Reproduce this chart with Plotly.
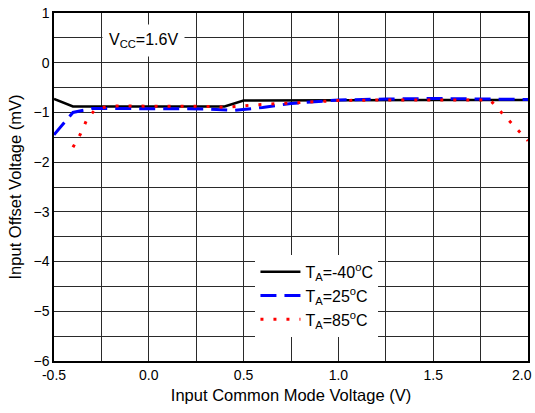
import plotly.graph_objects as go

x_m40 = [-0.5, -0.4, 0.0, 0.4, 0.5, 1.0, 1.5, 2.0]
y_m40 = [-0.73, -0.88, -0.88, -0.88, -0.76, -0.75, -0.75, -0.75]

x_25 = [-0.5, -0.4, -0.3, -0.1, 0.1, 0.3, 0.45, 0.6, 0.75, 0.9, 1.0, 1.25, 1.5, 1.75, 2.0]
y_25 = [-1.45, -1.0, -0.92, -0.92, -0.92, -0.93, -0.96, -0.9, -0.82, -0.78, -0.75, -0.73, -0.72, -0.73, -0.74]

x_85 = [-0.4, -0.36, -0.325, -0.28, -0.2, 0.0, 0.2, 0.35, 0.4, 0.55, 0.7, 0.9, 1.0, 1.25, 1.5, 1.8, 1.86, 1.93, 2.0]
y_85 = [-1.7, -1.43, -1.13, -0.93, -0.87, -0.87, -0.87, -0.88, -0.9, -0.85, -0.82, -0.78, -0.76, -0.75, -0.75, -0.75, -1.0, -1.28, -1.57]

x_ticks = [-0.5, 0.0, 0.5, 1.0, 1.5]
x_edge_tick = 2.0

names = ["T<sub>A</sub>=-40<sup>o</sup>C", "T<sub>A</sub>=25<sup>o</sup>C", "T<sub>A</sub>=85<sup>o</sup>C"]

fig = go.Figure()
fig.add_trace(go.Scatter(x=x_m40, y=y_m40, mode="lines", name=names[0],
                         line=dict(color="black", width=2.5)))
fig.add_trace(go.Scatter(x=x_25, y=y_25, mode="lines", name=names[1],
                         line=dict(color="blue", width=3, dash="16px,8px")))
fig.add_trace(go.Scatter(x=x_85, y=y_85, mode="lines", name=names[2],
                         line=dict(color="red", width=3, dash="3px,10px")))

font = "Liberation Sans, Arial, sans-serif"
fig.add_annotation(x=-0.03, y=0.44, xref="x", yref="y",
                   text="V<sub>CC</sub>=1.6V", showarrow=False,
                   bgcolor="white", borderpad=6,
                   font=dict(family=font, size=16, color="black"))
fig.add_annotation(x=x_edge_tick, y=0, xref="x", yref="paper", yanchor="top",
                   xanchor="right", xshift=6, yshift=-4,
                   text=f"{x_edge_tick:.1f}", showarrow=False,
                   font=dict(family=font, size=14, color="black"))

grid = "#2a2a2a"
fig.update_layout(
    width=535, height=413,
    margin=dict(l=54, r=7, t=13, b=52),
    plot_bgcolor="white", paper_bgcolor="white",
    font=dict(family=font, size=14, color="black"),
    legend=dict(x=0.425, y=0.305, xanchor="left", yanchor="top",
                bgcolor="white", font=dict(family=font, size=16),
                tracegroupgap=0, itemwidth=40),
    xaxis=dict(range=[-0.5, 2.0], tickvals=x_ticks, ticktext=[f"{v:.1f}" for v in x_ticks],
               automargin=False,
               showgrid=True, gridcolor=grid, gridwidth=1.2,
               minor=dict(dtick=0.25, tick0=-0.5, showgrid=True, gridcolor=grid, gridwidth=1.2),
               showline=True, linecolor="black", linewidth=1.5, mirror=True,
               ticks="", zeroline=False,
               title=dict(text="Input Common Mode Voltage (V)", font=dict(size=16.5), standoff=8)),
    yaxis=dict(range=[-6, 1], dtick=1, automargin=False,
               showgrid=True, gridcolor=grid, gridwidth=1.2,
               minor=dict(dtick=0.5, showgrid=True, gridcolor=grid, gridwidth=1.2),
               showline=True, linecolor="black", linewidth=1.5, mirror=True,
               ticks="", zeroline=False,
               title=dict(text="Input Offset Voltage (mV)", font=dict(size=16.5), standoff=8)),
)

fig.write_html("out.html")
